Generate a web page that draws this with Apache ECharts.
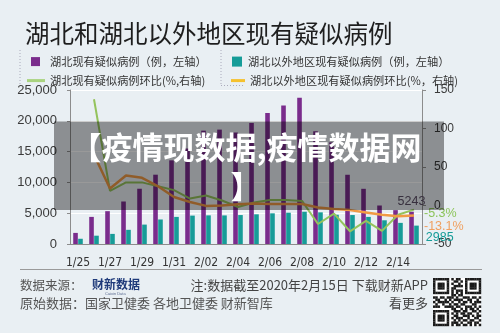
<!DOCTYPE html>
<html><head><meta charset="utf-8">
<script src="https://cdn.jsdelivr.net/npm/echarts@6/dist/echarts.min.js"></script>
<style>html,body{margin:0;padding:0;background:#e9eff3;}#c{width:500px;height:333px;}</style>
</head><body><div id="c"></div>
<script>
// ---- data ----
const categories = ["1/25","1/26","1/27","1/28","1/29","1/30","1/31","2/01","2/02","2/03","2/04","2/05","2/06","2/07","2/08","2/09","2/10","2/11","2/12","2/13","2/14","2/15"];
const hubeiSuspected = [1800,4400,5330,6900,8970,11250,13580,15500,18400,18570,18100,19650,21280,22480,23730,18300,16500,11240,8960,6250,5500,5243];
const outsideSuspected = [850,1350,1640,2300,3150,3980,4400,4610,4650,4640,4700,4820,4980,5080,5240,5140,4750,4700,4400,3850,3430,2985];
const hubeiChange = [null,138,19,30,30,25,20,9,13,6.5,-2,4,7,7,6,-24,-10.5,-33.5,-20,-33,-12,-5.3];
const outsideChange = [null,66,22,39,36,25,11,4.5,-0.5,0,1.5,2.5,2,2,2,-2.5,-4.5,-6,-9,-12,-14,-13.1];
const leftTicks = [0,25000,5000];
const rightTicks = [-50,150,50];
const seriesNames = ["湖北现有疑似病例（例，左轴）","湖北以外地区现有疑似病例（例，左轴）","湖北现有疑似病例环比(%,右轴)","湖北以外地区现有疑似病例环比(%，右轴)"];
const qrRows = [
"111111101011001111111",
"100000100110101000001",
"101110101001001011101",
"101110100111101011101",
"101110101100001011101",
"100000101011101000001",
"111111101010101111111",
"000000001101100000000",
"110110111010011101101",
"011001010111100110010",
"101111101001011010111",
"010010010110110001100",
"111001111011001110101",
"000000001100101011010",
"111111100111011001101",
"100000101010110110010",
"101110100110011101011",
"101110101011100100110",
"101110100101011011001",
"100000101110100110110",
"111111101011011010101"];

const CJK = '"Noto Sans CJK SC", "Noto Sans", sans-serif';
const NUM = '"Liberation Sans", Arial, sans-serif';
const NARROW = '"Liberation Sans Narrow", "DejaVu Sans Condensed", "Liberation Sans", sans-serif';
const purple = '#7a2c8c', teal = '#169c98', green = '#94c35c', orange = '#f19a45';
const last = categories.length - 1;

function withLast(arr, label) {
  return arr.map((v, i) => i === last ? {value: v, label: Object.assign({show: true}, label)} : v);
}

const qr = [];
const m = 48 / 21;
qr.push({type:'rect', shape:{x:433,y:278,width:48,height:48}, style:{fill:'#ffffff'}});
qrRows.forEach((row, r) => {
  for (let c = 0; c < row.length; c++) {
    if (row[c] === '1') qr.push({type:'rect', shape:{x:433 + c*m, y:278 + r*m, width:m+0.2, height:m+0.2}, style:{fill:'#1a1a1a'}});
  }
});

const legTxt = {fontFamily: CJK, fontSize: 11.2, color: '#333'};
const chart = echarts.init(document.getElementById('c'), null, {renderer:'canvas'});
chart.setOption({
  animation: false,
  backgroundColor: '#e9eff3',
  title: {text: '湖北和湖北以外地区现有疑似病例', left: 20, top: 16,
    textStyle: {fontFamily: CJK, fontSize: 24.5, fontWeight: 'normal', color: '#1e1e1e'}},
  legend: [
    {data: [seriesNames[0]], left: 26, top: 51, icon: 'rect', itemWidth: 9, itemHeight: 9,
     textStyle: Object.assign({padding: [0,0,0,5]}, legTxt)},
    {data: [seriesNames[1]], left: 227, top: 51, icon: 'rect', itemWidth: 10, itemHeight: 10,
     textStyle: Object.assign({padding: [0,0,0,1]}, legTxt)},
    {data: [{name: seriesNames[2], itemStyle:{color:'#a9d37f'}}],
     left: 22, top: 70, icon: 'rect', itemWidth: 18, itemHeight: 3, textStyle: legTxt},
    {data: [{name: seriesNames[3], itemStyle:{color:'#f5c12e'}}],
     left: 226, top: 70, icon: 'rect', itemWidth: 14, itemHeight: 3, textStyle: legTxt}
  ],
  grid: {left: 70, right: 78, top: 90, bottom: 89, containLabel: false},
  xAxis: {type: 'category', data: categories,
    axisLine: {lineStyle: {color: '#8c8c8c'}},
    axisTick: {interval: 1, length: 4, lineStyle: {color: '#8c8c8c'}},
    axisLabel: {interval: 1, margin: 13, fontFamily: NARROW, fontSize: 12, color: '#333'}},
  yAxis: [
    {type: 'value', min: leftTicks[0], max: leftTicks[1], interval: leftTicks[2],
     axisLine: {show: true, lineStyle: {color: '#8c8c8c'}},
     axisTick: {show: true, length: 3, lineStyle: {color: '#8c8c8c'}},
     axisLabel: {margin: 13, fontFamily: NUM, fontSize: 13, color: '#3a3a3a'},
     splitLine: {lineStyle: {color: '#ffffff', width: 1}}},
    {type: 'value', min: rightTicks[0], max: rightTicks[1], interval: rightTicks[2], position: 'right',
     axisLine: {show: true, lineStyle: {color: '#8c8c8c'}},
     axisTick: {show: true, length: 4, lineStyle: {color: '#8c8c8c'}},
     axisLabel: {margin: 12, fontFamily: NUM, fontSize: 12, color: '#3a3a3a'},
     splitLine: {show: false}}
  ],
  series: [
    {name: seriesNames[0], type: 'bar', yAxisIndex: 0, barWidth: 4.6, barGap: '8%',
     itemStyle: {color: purple},
     data: withLast(hubeiSuspected, {position: 'top', distance: 4, color: '#5d5068', fontFamily: NUM, fontSize: 12.5})},
    {name: seriesNames[1], type: 'bar', yAxisIndex: 0, barWidth: 4.6,
     itemStyle: {color: teal},
     data: withLast(outsideSuspected, {position: 'right', distance: 5, offset: [2, 3], color: teal, fontFamily: NUM, fontSize: 12.5})},
    {name: seriesNames[2], type: 'line', yAxisIndex: 1, showSymbol: false, symbol: 'none',
     lineStyle: {color: green, width: 2}, itemStyle: {color: green},
     endLabel: {show: true, distance: 5, offset: [5, 4], color: '#8cc45a', fontFamily: NUM, fontSize: 12.5, formatter: p => p.value + '%'},
     data: hubeiChange},
    {name: seriesNames[3], type: 'line', yAxisIndex: 1, showSymbol: false, symbol: 'none',
     lineStyle: {color: orange, width: 2.5}, itemStyle: {color: orange},
     endLabel: {show: true, distance: 5, offset: [5, 11], color: '#f0a060', fontFamily: NUM, fontSize: 12.5, formatter: p => p.value + '%'},
     data: outsideChange}
  ],
  graphic: [
    {type:'line', shape:{x1:20,y1:50,x2:20,y2:86}, style:{stroke:'#aab', lineWidth:1, lineDash:[1,2]}},
    {type:'line', shape:{x1:221,y1:50,x2:221,y2:86}, style:{stroke:'#aab', lineWidth:1, lineDash:[1,2]}},
    {type:'line', shape:{x1:221,y1:85.5,x2:245,y2:85.5}, style:{stroke:'#aab', lineWidth:1, lineDash:[1,2]}},
    {type:'rect', z: 100, shape:{x:54, y:121.5, width:390, height:88.5}, style:{fill:'rgba(0,0,0,0.40)'}},
    {type:'text', z: 101, style:{text:'【疫情现数据,疫情数据网\n】', x:246, y:128, textAlign:'center', textVerticalAlign:'top', verticalAlign:'top',
      lineHeight: 38.5, fill:'#ffffff', font:'bold 31px ' + CJK}},
    {type:'line', shape:{x1:20,y1:269.5,x2:482,y2:269.5}, style:{stroke:'#9a9a9a', lineWidth:1}},
    {type:'text', style:{text:'数据来源：', x:20, y:285, textVerticalAlign:'middle', verticalAlign:'middle', fill:'#555', font:'12.5px ' + CJK}},
    {type:'text', style:{text:'财新数据', x:92, y:284, textVerticalAlign:'middle', verticalAlign:'middle', fill:'#1f3a7a', font:'bold 12px ' + CJK}},
    {type:'text', style:{text:'Caixin Data', x:105, y:293.5, textVerticalAlign:'middle', verticalAlign:'middle', fill:'#5a6a90', font:'4px ' + NUM}},
    {type:'text', style:{text:'注:数据截至2020年2月15日 下载财新APP', x:428, y:285, textAlign:'right', textVerticalAlign:'middle', verticalAlign:'middle', fill:'#444', font:'13px ' + CJK}},
    {type:'text', style:{text:'原始数据：国家卫健委 各地卫健委 财新智库', x:20, y:303.5, textVerticalAlign:'middle', verticalAlign:'middle', fill:'#555', font:'13px ' + CJK}},
    {type:'text', style:{text:'看更多', x:428, y:303.5, textAlign:'right', textVerticalAlign:'middle', verticalAlign:'middle', fill:'#444', font:'13px ' + CJK}},
    {type:'group', children: qr}
  ]
});
</script></body></html>
